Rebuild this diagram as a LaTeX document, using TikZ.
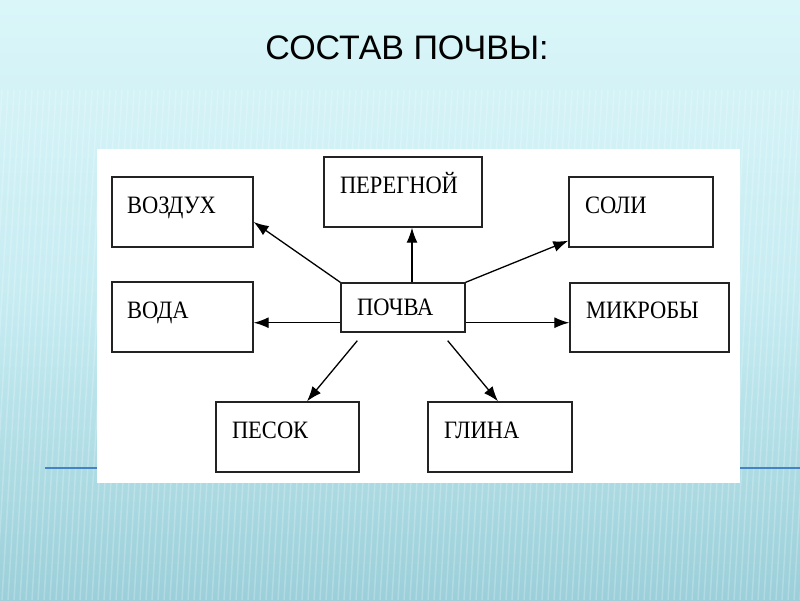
\documentclass[tikz,border=0pt]{standalone}
\usepackage{fontspec}
\setmainfont{Liberation Serif}
\newfontfamily\titlefont{Liberation Sans}
\newfontfamily\boxfont[FakeStretch=0.9]{Liberation Serif}
\usetikzlibrary{calc,arrows.meta}
\definecolor{bgtop}{RGB}{218,246,249}
\definecolor{bgmid}{RGB}{198,236,242}
\definecolor{bgbot}{RGB}{155,207,217}
\definecolor{rulecol}{RGB}{70,130,200}
\definecolor{boxline}{RGB}{35,35,35}
\tikzset{
  compbox/.style={draw=boxline, line width=1.4pt, fill=white, align=left,
    inner xsep=15pt, inner ysep=0pt, text height=17pt, text depth=15pt,
    font=\boxfont\fontsize{25}{28}\selectfont},
  arr/.style={draw=black, line width=1.3pt, -{Latex[length=15pt,width=11pt]}}
}
\begin{document}
\begin{tikzpicture}[x=1pt,y=-1pt]
\useasboundingbox (0,0) rectangle (800,600);
% background
\shade[top color=bgtop, bottom color=bgbot, middle color=bgmid] (0,0) rectangle (800,600);
\begin{scope}
\clip (0,90) rectangle (800,600);
\foreach \i in {0,6,...,840} {
  \draw[white, opacity=0.22, line width=1.5pt] (\i-40,600) -- (\i-10,90);
}
\end{scope}
% blue rule
\draw[rulecol, line width=1.2pt] (45,468) -- (800,468);
% white panel
\fill[white] (97,149) rectangle (740,483);
% title
\node[font=\titlefont\fontsize{34}{38}\selectfont, text=black] (title) at (407,48) {СОСТАВ ПОЧВЫ:};
% boxes
\node[compbox, text width=111pt, minimum height=70pt] (vozduh) at (182.5,212) {ВОЗДУХ};
\node[compbox, text width=126pt, inner xsep=16pt, minimum height=70pt] (peregnoy) at (403,192) {ПЕРЕГНОЙ};
\node[compbox, text width=112pt, inner xsep=16pt, minimum height=70pt] (soli) at (641,212) {СОЛИ};
\node[compbox, text width=111pt, minimum height=70pt] (voda) at (182.5,317) {ВОДА};
\node[compbox, text width=92pt, inner xsep=16pt, text depth=1pt, minimum height=49pt] (pochva) at (403,307.5) {ПОЧВА};
\node[compbox, text width=127pt, inner xsep=16pt, minimum height=69pt] (mikroby) at (649.5,317.5) {МИКРОБЫ};
\node[compbox, text width=111pt, inner xsep=16pt, minimum height=70pt] (pesok) at (287.5,437) {ПЕСОК};
\node[compbox, text width=112pt, inner xsep=16pt, minimum height=70pt] (glina) at (500,437) {ГЛИНА};
% connector end points
\coordinate (pl) at ($(pochva.south west)+(0,-10)$);
\coordinate (pr) at ($(pochva.south east)+(0,-10)$);
% connectors
\draw[arr] (pochva.north west) -- ($(vozduh.east)+(0,10)$);
\draw[arr] ($(pochva.north)+(9,0)$) -- ($(peregnoy.south)+(9,0)$);
\draw[arr] (pochva.north east) -- ($(soli.south west)+(0,-7)$);
\draw[arr] (pl) -- (voda.east |- pl);
\draw[arr] (pr) -- (mikroby.west |- pr);
\draw[arr] ($(pochva.south west)+(17,8)$) -- ($(pesok.north)+(19.5,0)$);
\draw[arr] ($(pochva.south east)+(-18,8)$) -- ($(glina.north)+(-2,0)$);
\end{tikzpicture}
\end{document}
